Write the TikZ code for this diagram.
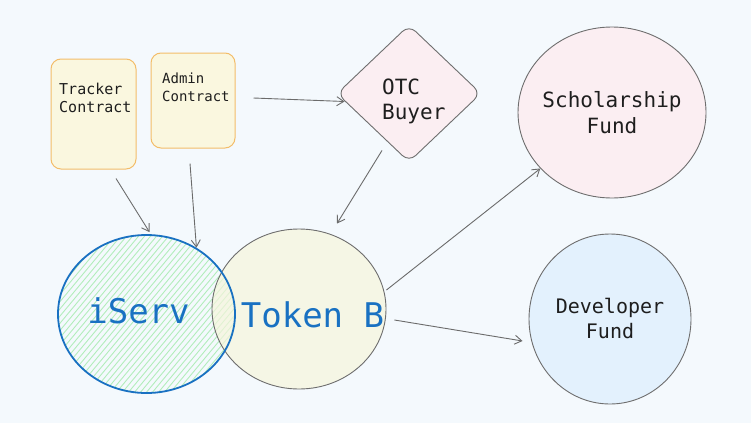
\documentclass[tikz,border=0pt]{standalone}
\usepackage{fontspec}
\setmonofont{DejaVu Sans Mono}
\usetikzlibrary{shapes.geometric,arrows.meta,calc}
\definecolor{bg}{HTML}{F4F9FD}
\definecolor{boxfill}{HTML}{FAF7DF}
\definecolor{boxline}{HTML}{F3BD6A}
\definecolor{pinkfill}{HTML}{FBEEF2}
\definecolor{bluefill}{HTML}{E3F1FD}
\definecolor{yelfill}{HTML}{F6F5DC}
\definecolor{shapeline}{HTML}{6E6E6E}
\definecolor{arrgray}{HTML}{6B6B6B}
\definecolor{iblue}{HTML}{1971C2}
\definecolor{hatch}{HTML}{B2EDBB}
\definecolor{txt}{HTML}{1E1E1E}
\begin{document}
\begin{tikzpicture}[x=1pt,y=-1pt,
  arr/.style={draw=arrgray, line width=0.9pt, -{Straight Barb[length=7pt,width=9pt]}},
  cbox/.style={draw=boxline, fill=boxfill, line width=1pt, rounded corners=10pt, inner sep=0pt},
  blob/.style={ellipse, draw=shapeline, line width=0.9pt, inner sep=0pt},
  lbl/.style={inner sep=0pt, text=txt}]
\fill[bg] (0,0) rectangle (751,423);
\useasboundingbox (0,0) rectangle (751,423);

% iServ hatching
\begin{scope}
  \clip (146.5,314) ellipse [x radius=88.5, y radius=79];
  \foreach \i in {-160,-154,...,260} {
    \draw[hatch, line width=0.9pt] (\i,400) -- (\i+150,220);
  }
\end{scope}

% Token B (translucent) then iServ border
\node[blob, fill=yelfill, fill opacity=0.7, minimum width=174pt, minimum height=160pt] (tokenb) at (299,309) {};
\node[ellipse, draw=iblue, line width=1.8pt, inner sep=0pt, minimum width=177pt, minimum height=158pt] (iserv) at (146.5,314) {};

% boxes
\node[cbox, minimum width=85pt, minimum height=110pt] (tracker) at (93.5,114) {};
\node[cbox, minimum width=84pt, minimum height=95pt] (admin) at (193,100.5) {};

% OTC diamond
\node[diamond, draw=shapeline, fill=pinkfill, line width=0.9pt, rounded corners=9pt, inner sep=0pt, minimum width=144pt, minimum height=137pt] (otc) at (409,93.5) {};

% funds
\node[blob, fill=pinkfill, minimum width=188pt, minimum height=171pt] (scholar) at (612,112.5) {};
\node[blob, fill=bluefill, minimum width=162pt, minimum height=170pt] (dev) at (610,319) {};

% texts
\node[lbl, anchor=west, align=left, font=\ttfamily\fontsize{15}{18}\selectfont] (trackertxt) at (59,97.5) {Tracker\\Contract};
\node[lbl, anchor=west, align=left, font=\ttfamily\fontsize{14}{18}\selectfont] (admintxt) at (162,87.5) {Admin\\Contract};
\node[lbl, anchor=west, align=left, font=\ttfamily\fontsize{21}{25}\selectfont] (otctxt) at (382,101) {OTC\\Buyer};
\node[lbl, align=center, font=\ttfamily\fontsize{21}{26}\selectfont] (scholartxt) at (612,112.5) {Scholarship\\Fund};
\node[lbl, align=center, font=\ttfamily\fontsize{20}{25}\selectfont] (devtxt) at (610,318) {Developer\\Fund};
\node[inner sep=0pt, text=iblue, font=\ttfamily\fontsize{34}{40}\selectfont] (iservtxt) at (138.5,311) {iServ};
\node[inner sep=0pt, text=iblue, font=\ttfamily\fontsize{34}{40}\selectfont] (tokenbtxt) at (312.5,315) {Token B};

% arrows
\draw[arr] ($(tracker.south)+(22.5,9)$) -- ($(iserv.north)+(3,-2)$);
\draw[arr] ($(admin.south)+(-3,15)$) -- (iserv.53);
\draw[arr] ($(admin.east)+(18,-2.5)$) -- ($(otc.west)+(8,8)$);
\draw[arr] ($(otc.south)+(-27,-12)$) -- ($(tokenb.north)+(38,-5)$);
\draw[arr] ($(tokenb.east)+(0,-19)$) -- (scholar.218);
\draw[arr] ($(tokenb.east)+(8,11)$) -- ($(dev.west)+(-6,22)$);
\end{tikzpicture}
\end{document}
